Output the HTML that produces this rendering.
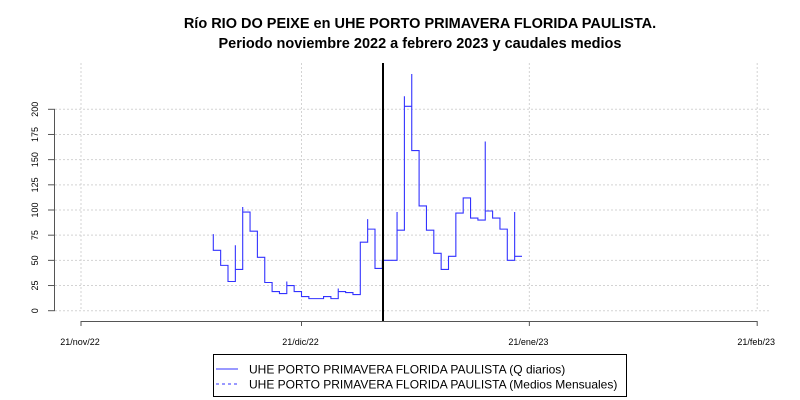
<!DOCTYPE html>
<html><head><meta charset="utf-8"><style>
body{margin:0;background:#fff;}
svg{display:block;font-family:"Liberation Sans",sans-serif;}
</style></head><body>
<svg id="chart" width="800" height="400" xmlns="http://www.w3.org/2000/svg">
<text x="420" y="28" text-anchor="middle" font-size="14.5" font-weight="bold">Río RIO DO PEIXE en UHE PORTO PRIMAVERA FLORIDA PAULISTA.</text>
<text x="420" y="48" text-anchor="middle" font-size="14.5" font-weight="bold">Periodo noviembre 2022 a febrero 2023 y caudales medios</text>
<g id="grid"></g>
<g id="axes"></g>
<g id="series"></g>
<line x1="383" y1="63" x2="383" y2="321" stroke="#000" stroke-width="2"/>
<g>
<rect x="213.5" y="354.5" width="413" height="42" fill="#fff" stroke="#000"/>
<line x1="216" y1="369" x2="238" y2="369" stroke="#3333ff"/>
<text x="249" y="373.5" font-size="12">UHE PORTO PRIMAVERA FLORIDA PAULISTA (Q diarios)</text>
<line x1="216" y1="384" x2="238" y2="384" stroke="#3333ff" stroke-dasharray="3,3"/>
<text x="249" y="388.5" font-size="12">UHE PORTO PRIMAVERA FLORIDA PAULISTA (Medios Mensuales)</text>
</g>
</svg>
<script>
const yTicks = [0,25,50,75,100,125,150,175,200];
const xTickDays = [0,30,61,92];
const xTickLabels = ["21/nov/22","21/dic/22","21/ene/23","21/feb/23"];
const startDay = 18;
const dailyQ = [60,45,29,41,98,79,53,28,19,17,25,19,14,12,12,14,12,19,18,16,68,81,42,50,50,80,203,159,104,80,57,41,54,97,112,92,90,99,92,81,50,54];
const dailyPeak = [76,45,29,65,103,79,53,28,19,17,29,19,14,12,12,14,12,22,18,16,68,91,42,50,50,98,213,235,104,80,57,41,54,97,112,92,90,168,92,81,50,98];

const NS="http://www.w3.org/2000/svg";
function xS(d){return 81+d*7.35;}
function yS(v){return 310.7-v*1.007;}
const grid=document.getElementById('grid'), axes=document.getElementById('axes'), series=document.getElementById('series');
function mk(tag,attrs,parent){const e=document.createElementNS(NS,tag);for(const k in attrs)e.setAttribute(k,attrs[k]);parent.appendChild(e);return e;}

yTicks.forEach(v=>{
  const g=mk('line',{x1:55,x2:770,y1:yS(v),y2:yS(v),stroke:'#d3d3d3','stroke-dasharray':'2,2'},grid);
  
  
  const t=mk('line',{x1:48,x2:55,y1:yS(v),y2:yS(v),stroke:'#555'},axes);
  
  
  const l=mk('text',{x:0,y:0,'font-size':9,'text-anchor':'middle',transform:`translate(38,${yS(v)}) rotate(-90)`},axes);
  l.textContent=v;
  
  
});
const ya=mk('line',{x1:54.5,x2:54.5,y1:yS(0),y2:yS(200),stroke:'#555'},axes);


xTickDays.forEach((d,i)=>{
  const g=mk('line',{x1:xS(d),x2:xS(d),y1:63,y2:311,stroke:'#d3d3d3','stroke-dasharray':'2,2'},grid);
  
  
  const t=mk('line',{x1:xS(d),x2:xS(d),y1:321,y2:326,stroke:'#555'},axes);
  
  
  const l=mk('text',{x:xS(d)-1,y:345,'font-size':9,'text-anchor':'middle'},axes);
  l.textContent=xTickLabels[i];
  
  
});
const xa=mk('line',{x1:xS(xTickDays[0]),x2:xS(xTickDays[xTickDays.length-1]),y1:321.5,y2:321.5,stroke:'#555'},axes);



let d='';
dailyQ.forEach((v,i)=>{
  const x0=xS(startDay+i), x1=xS(startDay+i+1);
  d+= (i===0?`M${x0},${yS(dailyPeak[i])}`:`L${x0},${yS(dailyPeak[i])}`)+` L${x0},${yS(v)} L${x1},${yS(v)}`;
});
const p=mk('path',{d:d,fill:'none',stroke:'#3333ff','stroke-width':1.1},series);


</script>
</body></html>
